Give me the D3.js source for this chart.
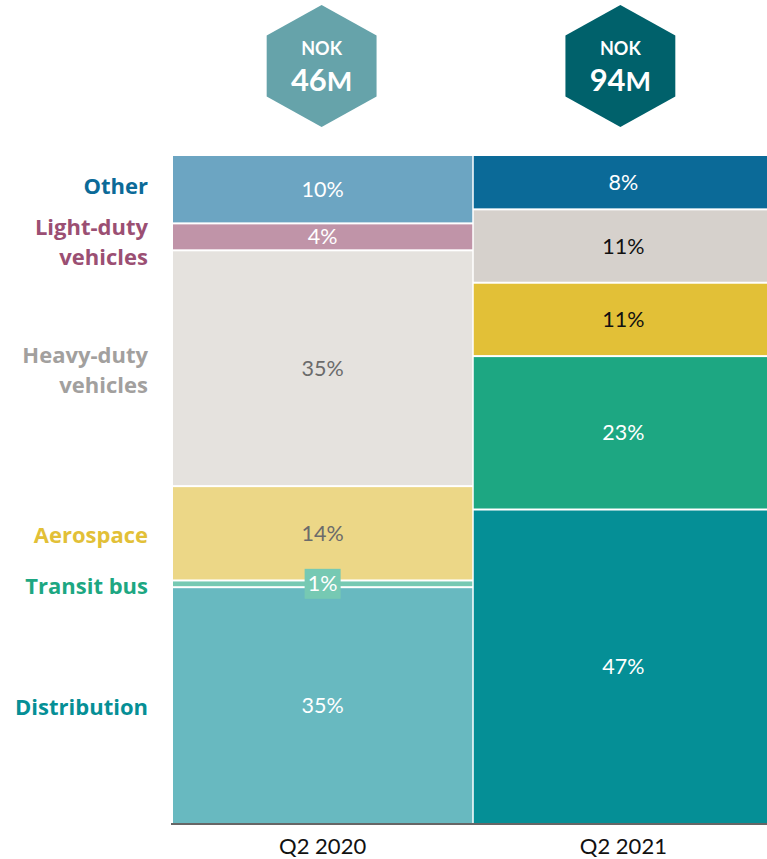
<!DOCTYPE html>
<html>
<head>
<meta charset="utf-8">
<script src="https://cdn.jsdelivr.net/npm/d3@7"></script>
<style>
  body { margin: 0; background: #fff; }
  text { font-family: Lato, "Open Sans", sans-serif; }
</style>
</head>
<body>
<script>
// data, top of the stack first
let periods = ["Q2 2020", "Q2 2021"];
let totals = ["46", "94"];
let segments = ["Other", "Light-duty vehicles", "Heavy-duty vehicles", "Aerospace", "Transit bus", "Distribution"];
let share2020 = [10, 4, 35, 14, 1, 35];
let share2021 = [8, 0, 11, 11, 23, 47];

// colours per segment
let labelColors = ["#0b6a98", "#9b4f73", "#a2a09e", "#e2c037", "#1da782", "#058f96"];
let fill2020 = ["#6ca5c2", "#c094a8", "#e5e2de", "#ecd787", "#76c9b3", "#68b9c0"];
let fill2021 = ["#0b6a98", "#c094a8", "#d6d1cc", "#e2c037", "#1da782", "#058f96"];
let text2020 = ["#fff", "#fff", "#6b6b6b", "#6b6b6b", "#fff", "#fff"];
let text2021 = ["#fff", "#fff", "#111", "#111", "#fff", "#fff"];
let hexColors = ["#66a3aa", "#00616b"];

let width = 767, height = 859;
let plotTop = 156, plotBottom = 823, plotLeft = 173, plotRight = 773;

let svg = d3.select("body").append("svg")
  .attr("width", width)
  .attr("height", height);

let x = d3.scaleBand()
  .domain(periods)
  .range([plotLeft, plotRight])
  .paddingInner(0.005);

let y = d3.scaleLinear()
  .domain([1, 0])
  .range([plotTop, plotBottom]);

// build rows for d3.stack, bottom segment first
let rows = periods.map(function(p, i) {
  let row = { period: p };
  segments.forEach(function(s, j) {
    row[s] = (i === 0 ? share2020 : share2021)[j];
  });
  return row;
});

let stack = d3.stack()
  .keys(segments.slice().reverse())
  .offset(d3.stackOffsetExpand);

let series = stack(rows);

let fills = [fill2020, fill2021];
let texts = [text2020, text2021];
let shares = [share2020, share2021];

// flatten into cells
let cells = [];
series.forEach(function(layer) {
  let j = segments.indexOf(layer.key);
  layer.forEach(function(d, i) {
    let v = shares[i][j];
    if (v === 0) return;
    cells.push({ i: i, j: j, v: v, period: d.data.period, y0: y(d[1]), y1: y(d[0]) });
  });
});

let barLayer = svg.append("g");
let labelLayer = svg.append("g");

cells.forEach(function(c) {
  let gapTop = (c.j === 0) ? 0 : 1;
  let gapBot = (c.j === segments.length - 1) ? 0 : 1;
  barLayer.append("rect")
    .attr("x", x(c.period))
    .attr("y", c.y0 + gapTop)
    .attr("width", x.bandwidth())
    .attr("height", Math.max(1, c.y1 - c.y0 - gapTop - gapBot))
    .attr("fill", fills[c.i][c.j]);

  let cy = (c.y0 + c.y1) / 2;
  let cx = x(c.period) + x.bandwidth() / 2;
  if (c.v === 1) {
    // tiny slice gets a label box
    labelLayer.append("rect")
      .attr("x", cx - 18)
      .attr("y", cy - 15)
      .attr("width", 36)
      .attr("height", 30)
      .attr("fill", fills[c.i][c.j]);
  }
  labelLayer.append("text")
    .attr("x", cx)
    .attr("y", cy)
    .attr("dy", "0.35em")
    .attr("text-anchor", "middle")
    .attr("font-size", 21.5)
    .attr("fill", texts[c.i][c.j])
    .text(c.v + "%");
});

// segment labels on the left, lined up with the 2020 column
let first = series.map(function(layer) {
  return { key: layer.key, mid: y((layer[0][0] + layer[0][1]) / 2) };
});
first.forEach(function(f) {
  let j = segments.indexOf(f.key);
  let words = f.key === "Transit bus" ? [f.key] : f.key.split(" ");
  let lineH = 30;
  let t = svg.append("text")
    .attr("text-anchor", "end")
    .attr("font-size", 22)
    .attr("font-weight", "bold")
    .style("font-family", "'Open Sans', sans-serif")
    .attr("fill", labelColors[j]);
  let shift = f.key === "Other" ? -3 : (f.key === "Light-duty vehicles" ? 5 : 2);
  words.forEach(function(w, k) {
    t.append("tspan")
      .attr("x", 148)
      .attr("y", f.mid + shift + (k - (words.length - 1) / 2) * lineH)
      .attr("dy", "0.35em")
      .text(w);
  });
});

// baseline and x axis
svg.append("line")
  .attr("x1", plotLeft - 2).attr("x2", width)
  .attr("y1", plotBottom + 1).attr("y2", plotBottom + 1)
  .attr("stroke", "#333").attr("stroke-width", 1.5);

let xAxis = svg.append("g")
  .attr("transform", `translate(0, ${plotBottom + 2})`)
  .call(d3.axisBottom(x).tickSize(0).tickPadding(13));
xAxis.select(".domain").remove();
xAxis.selectAll("text")
  .attr("font-size", 22)
  .attr("fill", "#111")
  .style("font-family", "Lato, sans-serif");

// hexagon badges
let hexR = 61;
periods.forEach(function(p, i) {
  let cx = i === 0 ? x(p) + x.bandwidth() / 2 - 1 : x(p) + x.bandwidth() / 2 - 3;
  let cy = 66;
  let pts = d3.range(6).map(function(k) {
    let a = Math.PI / 3 * k - Math.PI / 2;
    return [cx + hexR * Math.cos(a) * 1.04, cy + hexR * Math.sin(a)];
  });
  svg.append("polygon")
    .attr("points", pts.map(function(q) { return q.join(","); }).join(" "))
    .attr("fill", hexColors[i]);
  svg.append("text")
    .attr("x", cx).attr("y", cy - 17)
    .attr("dy", "0.35em")
    .attr("text-anchor", "middle")
    .attr("font-size", 18)
    .attr("font-weight", "bold")
    .attr("fill", "#fff")
    .text("NOK");
  let big = svg.append("text")
    .attr("x", cx).attr("y", cy + 14)
    .attr("dy", "0.35em")
    .attr("text-anchor", "middle")
    .attr("font-size", 31)
    .attr("font-weight", "bold")
    .attr("fill", "#fff");
  big.append("tspan").text(totals[i]);
  big.append("tspan").attr("font-size", 27).text("M");
});
</script>
</body>
</html>
